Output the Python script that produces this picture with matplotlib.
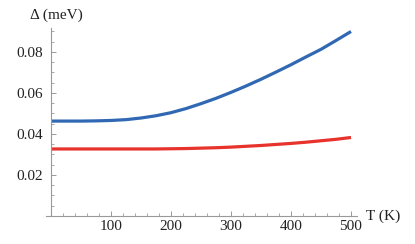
import matplotlib as mpl
mpl.use('Agg')
import matplotlib.pyplot as plt
from matplotlib.ticker import MultipleLocator
import numpy as np

# values
T = [0, 25, 50, 75, 100, 125, 150, 175, 200, 225, 250, 275, 300, 325, 350, 375, 400, 425, 450, 475, 500]
gap_blue = [0.0463, 0.0463, 0.0463, 0.0464, 0.0466, 0.0470, 0.0478, 0.0489, 0.0504, 0.0524, 0.0548,
            0.0574, 0.0603, 0.0634, 0.0667, 0.0702, 0.0738, 0.0776, 0.0813, 0.0856, 0.0900]
gap_red = [0.0327, 0.0327, 0.0327, 0.0327, 0.0327, 0.0327, 0.0327, 0.0327, 0.0328, 0.0329, 0.0331,
           0.0333, 0.0336, 0.0340, 0.0344, 0.0349, 0.0354, 0.0360, 0.0367, 0.0374, 0.0383]
yticks = [0.02, 0.04, 0.06, 0.08]
xticks = [100, 200, 300, 400, 500]

plt.rcParams['font.family'] = ['Liberation Serif', 'DejaVu Serif']

fig = plt.figure(figsize=(4.15, 2.44), dpi=100)
ax = fig.add_axes([45.6/415, 1-216/244, (357-45.6)/415, (216-28)/244])

ax.plot(T, gap_blue, color='#3068b4', lw=2.3, solid_capstyle='butt')
ax.plot(T, gap_red, color='#e8322c', lw=2.3, solid_capstyle='butt')

ax.set_xlim(-9, 510)
ax.set_ylim(0, 0.0917)

for s in ['top', 'right']:
  ax.spines[s].set_visible(False)
ax.spines['left'].set_position(('data', 0))
for s in ['left', 'bottom']:
  ax.spines[s].set_edgecolor('#999999')
  ax.spines[s].set_linewidth(0.8)

ax.set_xticks(xticks)
ax.set_xticklabels([str(v) for v in xticks])
ax.set_yticks(yticks)
ax.set_yticklabels(['%.2f' % v for v in yticks])
ax.xaxis.set_minor_locator(MultipleLocator(20))
ax.yaxis.set_minor_locator(MultipleLocator(0.005))
ax.tick_params(which='major', direction='in', length=3.5, width=0.7, color='#999999', labelsize=11, labelcolor='#222222')
ax.tick_params(which='minor', direction='in', length=2, width=0.6, color='#999999')
ax.tick_params(axis='y', pad=6)
ax.tick_params(axis='x', pad=3)

fig.text(56/415, 1-15/244, 'Δ (meV)', ha='center', va='center', fontsize=11, color='#222222')
fig.text(366/415, 1-216/244, 'T (K)', ha='left', va='center', fontsize=11, color='#222222')

plt.savefig('out.png', dpi=100)
